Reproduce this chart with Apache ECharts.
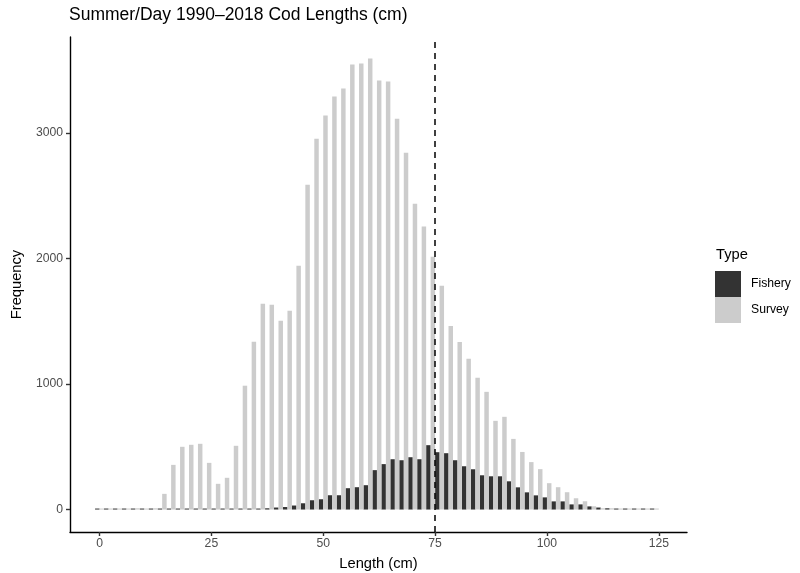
<!DOCTYPE html>
<html>
<head>
<meta charset="utf-8">
<script src="https://cdn.jsdelivr.net/npm/echarts@6/dist/echarts.min.js"></script>
<style>html,body{margin:0;padding:0;background:#fff}#chart{width:800px;height:573px}</style>
</head>
<body>
<div id="chart"></div>
<script>
// Bin centres (cm), 2 cm bins
const lengths = [0,2,4,6,8,10,12,14,16,18,20,22,24,26,28,30,32,34,36,38,40,42,44,46,48,50,52,54,56,58,60,62,64,66,68,70,72,74,76,78,80,82,84,86,88,90,92,94,96,98,100,102,104,106,108,110,112,114,116,118,120,122,124];
const fishery = [0,0,0,0,0,0,0,0,0,0,0,0,0,0,0,0,0,0,5,10,16,20,32,50,74,82,114,114,170,178,194,314,362,401,393,417,401,513,457,449,393,345,321,273,265,265,225,177,137,113,97,65,65,41,41,25,16,10,5,2,0,0,0];
const survey = [0,0,0,0,10,0,10,125,356,500,516,524,372,205,253,508,987,1337,1640,1632,1505,1585,1943,2589,2956,3140,3291,3355,3546,3554,3594,3419,3411,3115,2843,2438,2255,2015,1784,1463,1336,1201,1050,938,707,739,563,459,378,322,210,178,138,90,66,26,10,10,3,0,0,0,0];
const xTicks = [0,25,50,75,100,125];
const yTicks = [0,1000,2000,3000];
const refLength = 75;

const FONT = '"Liberation Sans", Arial, Helvetica, sans-serif';
const chart = echarts.init(document.getElementById('chart'), null, {renderer: 'canvas'});
chart.setOption({
  animation: false,
  backgroundColor: '#ffffff',
  textStyle: {fontFamily: FONT},
  title: {
    text: 'Summer/Day 1990\u20132018 Cod Lengths (cm)',
    left: 69, top: 3, padding: [2, 0, 2, 0],
    textStyle: {fontFamily: FONT, fontSize: 17.5, fontWeight: 'normal', color: '#000', lineHeight: 20}
  },
  grid: {left: 70, right: 113, top: 37, bottom: 41, containLabel: false, outerBoundsMode: 'none'},
  xAxis: {
    type: 'value', min: -6.6, max: 131.3,
    name: 'Length (cm)', nameLocation: 'middle', nameGap: 24,
    nameTextStyle: {fontFamily: FONT, fontSize: 14.7, color: '#000'},
    axisLine: {show: true, onZero: false, lineStyle: {color: '#000', width: 1.4}},
    axisTick: {show: true, length: 4, lineStyle: {color: '#333', width: 1.4}, customValues: xTicks},
    axisLabel: {show: true, margin: 6, fontFamily: FONT, fontSize: 12.2, color: '#4D4D4D', customValues: xTicks,
      formatter: v => String(v)},
    splitLine: {show: false}
  },
  yAxis: {
    type: 'value', min: -179, max: 3766,
    name: 'Frequency', nameLocation: 'middle', nameGap: 46,
    nameTextStyle: {fontFamily: FONT, fontSize: 14.7, color: '#000'},
    axisLine: {show: true, onZero: false, lineStyle: {color: '#000', width: 1.4}},
    axisTick: {show: true, length: 4, lineStyle: {color: '#333', width: 1.4}, customValues: yTicks},
    axisLabel: {show: true, margin: 7, fontFamily: FONT, fontSize: 12.2, color: '#4D4D4D', customValues: yTicks,
      formatter: v => String(v)},
    splitLine: {show: false}
  },
  legend: {
    orient: 'vertical', left: 715, top: 271, padding: 0,
    itemWidth: 26, itemHeight: 26, itemGap: 0,
    icon: 'rect',
    textStyle: {fontFamily: FONT, fontSize: 12.2, color: '#000', padding: [0,0,0,5]},
    data: ['Fishery', 'Survey']
  },
  graphic: [{
    type: 'text', left: 716, top: 247,
    style: {text: 'Type', font: '14.7px ' + FONT, fill: '#000'}
  }],
  series: [
    {
      name: 'Fishery', type: 'bar',
      data: lengths.map((x, i) => [x, fishery[i]]),
      itemStyle: {color: '#333333'},
      barGap: '0%', barCategoryGap: '0%', barMinHeight: 1
    },
    {
      name: 'Survey', type: 'bar',
      data: lengths.map((x, i) => [x, survey[i]]),
      itemStyle: {color: '#CCCCCC'},
      barGap: '0%', barCategoryGap: '0%', barMinHeight: 1
    },
    {
      name: 'ref', type: 'line', data: [], silent: true,
      markLine: {
        silent: true, symbol: ['none', 'none'], label: {show: false},
        lineStyle: {color: '#000', type: [6, 5], width: 1.5},
        data: [{xAxis: refLength}]
      },
      z: 10
    }
  ]
});
</script>
</body>
</html>
